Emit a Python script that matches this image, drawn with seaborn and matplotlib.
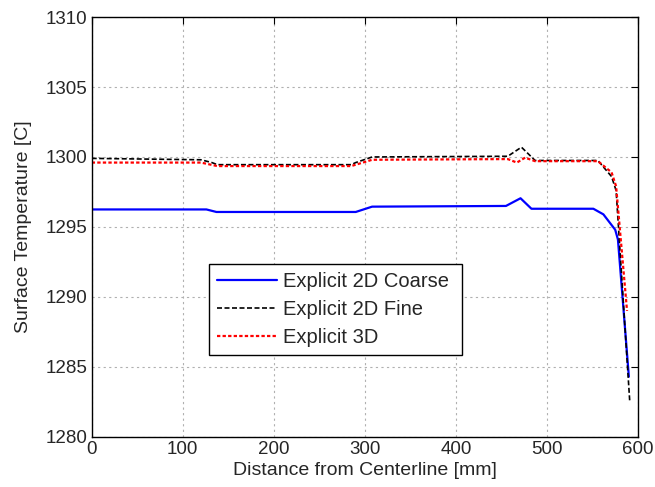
import pandas as pd
import seaborn as sns
from matplotlib import pyplot as plt

# values
coarse_x = [0, 126, 137, 290, 308, 455, 471, 483, 551, 562, 575, 578, 590]
coarse_y = [1296.25, 1296.25, 1296.07, 1296.07, 1296.45, 1296.5, 1297.05, 1296.3,
            1296.3, 1295.9, 1294.8, 1294.1, 1284.3]

fine_x = [0, 120, 132, 138, 285, 290, 308, 457, 472, 487, 556, 571, 576, 591]
fine_y = [1299.9, 1299.8, 1299.6, 1299.45, 1299.45, 1299.6, 1300.0, 1300.05, 1300.7,
          1299.75, 1299.75, 1298.6, 1297.6, 1282.5]

d3_x = [0, 120, 138, 285, 308, 457, 467, 476, 487, 556, 571, 576, 588]
d3_y = [1299.6, 1299.6, 1299.35, 1299.35, 1299.8, 1299.85, 1299.6, 1299.95, 1299.7,
        1299.7, 1298.9, 1297.9, 1289.0]

labels = ["Explicit 2D Coarse", "Explicit 2D Fine", "Explicit 3D"]
xticks = [0, 100, 200, 300, 400, 500, 600]
yticks = [1280, 1285, 1290, 1295, 1300, 1305, 1310]

sns.set_style("white")
plt.rcParams['font.family'] = ['Liberation Sans', 'DejaVu Sans']

frames = []
for lab, xs, ys in zip(labels, [coarse_x, fine_x, d3_x], [coarse_y, fine_y, d3_y]):
    frames.append(pd.DataFrame({"x": xs, "y": ys, "series": lab}))
df = pd.concat(frames, ignore_index=True)

fig = plt.figure(figsize=(6.55, 4.87), dpi=100)
ax = fig.add_axes([0.140, 0.103, 0.834, 0.862])

sns.lineplot(data=df, x="x", y="y", hue="series", style="series", sort=False,
             palette={labels[0]: "#0000ff", labels[1]: "black", labels[2]: "red"},
             dashes={labels[0]: "", labels[1]: (3, 1.5), labels[2]: (1.5, 1)},
             ax=ax, legend=True)
for line, lw in zip(ax.lines, [1.6, 1.2, 1.6]):
    line.set_linewidth(lw)

ax.set_xlim(0, 600)
ax.set_ylim(1280, 1310)
ax.set_xticks(xticks)
ax.set_yticks(yticks)
ax.grid(True, linestyle=(0, (2, 3)), color="#b0b0b0", linewidth=0.8)
ax.tick_params(direction="in", labelsize=13.5, top=True, right=True, length=5,
               color="black", pad=3)
for sp in ax.spines.values():
    sp.set_color("black")
    sp.set_linewidth(1.0)
ax.set_xlabel("Distance from Centerline [mm]", fontsize=14, labelpad=3)
ax.set_ylabel("Surface Temperature [C]", fontsize=14, labelpad=10)

handles, labs = ax.get_legend_handles_labels()
for h, lw in zip(handles, [1.6, 1.2, 1.6]):
    h.set_linewidth(lw)
leg = ax.legend(handles, labs, loc="upper left", bbox_to_anchor=(0.214, 0.412, 0.463, 0.0),
                mode="expand", fontsize=14.5, fancybox=False, framealpha=1,
                edgecolor="black", handlelength=3.0, handletextpad=0.3,
                borderpad=0.4, labelspacing=0.45, borderaxespad=0)
leg.get_frame().set_linewidth(1.0)

plt.savefig("out.png", dpi=100)
